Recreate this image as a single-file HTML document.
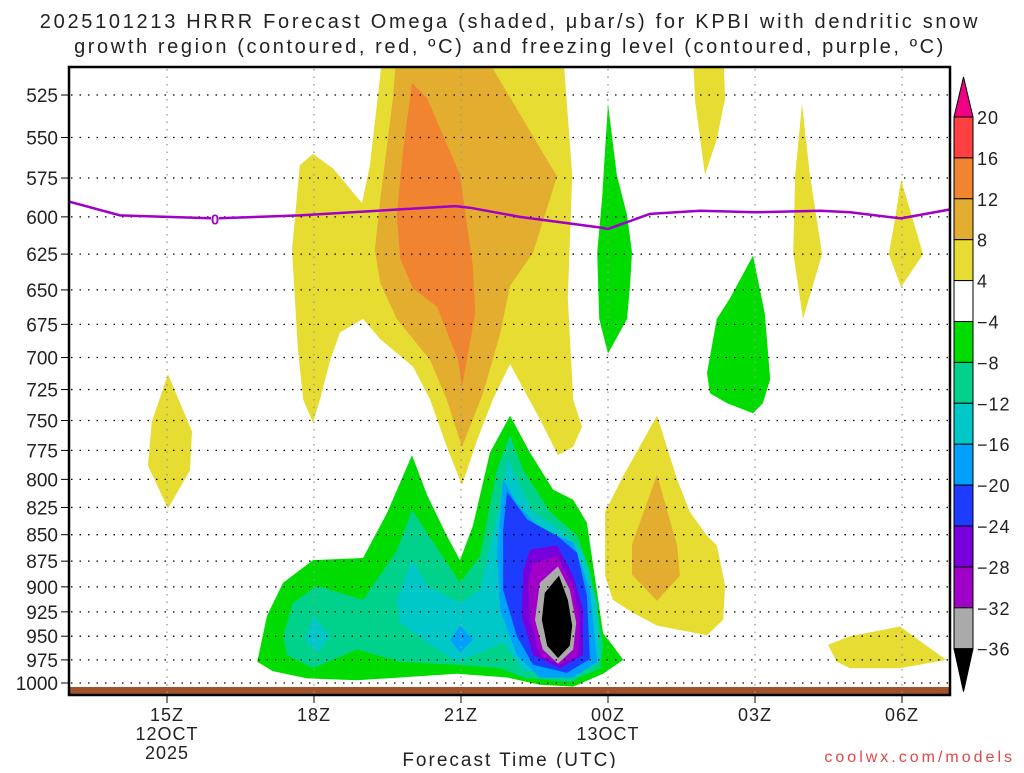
<!DOCTYPE html>
<html><head><meta charset="utf-8"><style>
body{margin:0;background:#fff;width:1024px;height:768px;overflow:hidden}
svg text{font-family:"Liberation Sans",sans-serif;fill:#222}
</style></head><body>
<svg id="chart" width="1024" height="768" xmlns="http://www.w3.org/2000/svg">
<text x="510" y="28" font-size="20" letter-spacing="2.7" text-anchor="middle">2025101213 HRRR Forecast Omega (shaded, μbar/s) for KPBI with dendritic snow</text>
<text x="510" y="53" font-size="20" letter-spacing="2.6" text-anchor="middle">growth region (contoured, red, ºC) and freezing level (contoured, purple, ºC)</text>
<defs><clipPath id="pc"><rect x="69" y="67" width="881" height="628"/></clipPath></defs>
<g id="fills" clip-path="url(#pc)"></g>
<g id="grid"></g>
<g id="frz" clip-path="url(#pc)"></g>
<rect x="69" y="67" width="881" height="628" fill="none" stroke="#000" stroke-width="2.5"/>
<g id="axes"></g>
<g id="cbar"></g>
<text x="510" y="766" font-size="19" letter-spacing="2" text-anchor="middle">Forecast Time (UTC)</text>
<text x="1015" y="762" font-size="16" letter-spacing="3" text-anchor="end" style="fill:#e04848">coolwx.com/models</text>
</svg>
<script>
const pressureTicks=[525,550,575,600,625,650,675,700,725,750,775,800,825,850,875,900,925,950,975,1000];
const hourTicks=[15,18,21,24,27,30];
const hourLabels=[["15Z","12OCT","2025"],["18Z"],["21Z"],["00Z","13OCT"],["03Z"],["06Z"]];
const levels=[20,16,12,8,4,-4,-8,-12,-16,-20,-24,-28,-32,-36];
const levelColors=["#ff4040","#f08430","#e3ae30","#e6dc32","#ffffff","#00dc00","#00d28c","#00c8c8","#00a0ff","#1e3cff","#7800dc","#a000c8","#aaaaaa"];
const freezingLevel=[[13,590],[14.04,599],[15.98,601],[17.71,599],[20.88,593],[21.18,594],[22.2,600],[23.84,607],[24,608],[24.86,598],[25.88,596],[27,597],[28.33,596],[28.94,597],[29.98,601],[31,595]];
const freezingLabelAt=[15.98,601];
const yellowMain=[[19.41,500],[23.08,500],[23.27,573],[23.18,656],[23.29,733],[23.47,755],[23.29,772],[22.98,779],[22.61,749],[22,705],[21.65,733],[21.33,766],[21.02,805],[20.71,772],[20.37,733],[20.02,707],[19.35,686],[19,671],[18.53,681],[18.33,702],[18.12,733],[17.98,752],[17.78,733],[17.67,693],[17.55,622],[17.71,567],[17.98,560],[18.39,569],[18.98,591],[19.14,567]];
const orangeMain=[[19.69,500],[21.43,500],[22.96,574],[22.47,624],[22,647],[21.8,682],[21.45,728],[21.02,772],[20.71,733],[20.37,702],[19.69,671],[19.35,645],[19.24,622],[19.35,589],[19.61,527]];
const darkOrangeMain=[[20,518],[20.31,527],[20.98,573],[21.24,633],[21.29,667],[21.02,723],[20.94,702],[20.51,662],[20.02,649],[19.76,628],[19.69,599],[19.82,557]];
const yellow15z=[[15.02,713],[15.51,759],[15.47,792],[15.02,826],[14.61,788],[14.69,751]];
const yellow02z=[[25.73,500],[26.35,500],[26.39,527],[26.22,551],[25.98,573],[25.78,529]];
const yellow04z=[[27.96,530],[28.12,573],[28.37,625],[27.98,671],[27.78,624],[27.82,573]];
const yellow06z=[[29.98,576],[30.43,625],[29.98,648],[29.73,625],[29.86,601]];
const yellow01z=[[25,746],[25.41,800],[25.67,829],[26.02,851],[26.22,860],[26.39,899],[26.35,933],[26.02,949],[25,939],[24.51,926],[24.1,913],[23.94,889],[23.94,829],[24.31,797]];
const orange01z=[[25,796],[25.41,860],[25.47,889],[25,914],[24.49,888],[24.49,859]];
const yellow05z=[[28.49,959],[28.94,950],[29.96,940],[30.9,975],[29.96,984],[28.94,984],[28.67,977]];
const green00z=[[24,530],[24.18,573],[24.39,599],[24.49,624],[24.45,647],[24.39,671],[24,697],[23.82,671],[23.78,624],[23.88,588],[23.94,557]];
const green03z=[[26.96,626],[27.2,667],[27.31,717],[27.16,736],[26.96,744],[26.43,736],[26.08,728],[26.02,712],[26.22,671],[26.49,656]];
const greenLow=[[16.84,977],[17.04,929],[17.37,896],[17.98,874],[19,872],[19.49,830],[20,779],[20.31,814],[20.71,851],[20.98,874],[21.24,842],[21.59,777],[22,746],[22.41,777],[22.88,809],[23.29,818],[23.57,839],[23.9,947],[24.1,960],[24.31,975],[23.9,990],[23.29,1004],[22.61,1002],[21.94,994],[20.92,990],[19.76,994],[18.88,997],[17.86,995],[17.16,987]];
const tealLow=[[17.37,950],[17.57,916],[18.06,899],[19,913],[19.69,865],[20,827],[20.43,857],[20.98,896],[21.39,870],[21.73,792],[22,762],[22.27,792],[22.82,829],[23.37,851],[23.63,884],[23.9,960],[23.84,984],[23.22,999],[22.27,994],[21.8,984],[20.84,980],[19.76,977],[18.88,964],[17.98,984],[17.45,970]];
const cyanLow=[[19.69,913],[20,874],[20.31,899],[20.98,916],[21.39,903],[21.8,821],[21.94,782],[22.14,800],[22.47,829],[23.02,845],[23.49,867],[23.78,916],[23.84,977],[23.22,994],[22.27,987],[21.86,957],[20.92,977],[20.31,957],[19.76,936]];
const cyan18z=[[17.98,929],[18.33,950],[18.06,967],[17.82,954]];
const blue21z=[[20.78,954],[20.98,939],[21.24,954],[20.98,967]];
const blueLow=[[21.86,800],[22.14,821],[22.61,845],[23.29,857],[23.63,903],[23.78,977],[23.29,994],[22.61,994],[22.14,970],[21.8,923],[21.73,867]];
const darkBlueLow=[[21.94,811],[22.35,836],[22.96,851],[23.37,867],[23.57,909],[23.63,974],[23.16,989],[22.47,980],[22.14,950],[21.86,903],[21.86,846]];
const purpleLow=[[22.41,864],[22.96,860],[23.29,889],[23.49,923],[23.49,970],[23.02,984],[22.47,970],[22.24,929],[22.27,884]];
const magentaLow=[[22.47,877],[22.96,870],[23.29,899],[23.43,933],[23.39,970],[23.02,980],[22.61,970],[22.41,933],[22.37,896]];
const grayLow=[[22.98,880],[23.22,903],[23.35,936],[23.29,964],[22.98,979],[22.67,964],[22.51,933],[22.61,896]];
const blackLow=[[23,889],[23.18,913],[23.27,939],[23.22,960],[22.98,973],[22.76,960],[22.65,933],[22.71,906]];

const X0=69,PXH=49,H0=13,Y1000=683,KY=912.5;
function xs(h){return X0+(h-H0)*PXH;}
function ys(p){return Y1000-KY*Math.log(1000/p);}
const NS="http://www.w3.org/2000/svg";
function mk(tag,parent,attrs){const e=document.createElementNS(NS,tag);for(const k in attrs)e.setAttribute(k,attrs[k]);parent.appendChild(e);return e;}

const fills=document.getElementById('fills');
const layers=[[yellowMain,3,'yellow-main'],[orangeMain,2,'orange-main'],[darkOrangeMain,1,'dark-orange-main'],[yellow15z,3,'yellow-15z'],[yellow02z,3,'yellow-02z'],[yellow04z,3,'yellow-04z'],[yellow06z,3,'yellow-06z'],[yellow01z,3,'yellow-01z'],[orange01z,2,'orange-01z'],[yellow05z,3,'yellow-05z'],[green00z,5,'green-00z'],[green03z,5,'green-03z'],[greenLow,5,'green-low'],[tealLow,6,'teal-low'],[cyanLow,7,'cyan-low'],[cyan18z,7,'cyan-18z'],[blue21z,8,'blue-21z'],[blueLow,8,'blue-low'],[darkBlueLow,9,'dark-blue-low'],[purpleLow,10,'purple-low'],[magentaLow,11,'magenta-low'],[grayLow,12,'gray-low'],[blackLow,-1,'black-low']];
layers.forEach(([pts,ci,name])=>{
  const d='M'+pts.map(q=>xs(q[0]).toFixed(1)+','+ys(q[1]).toFixed(1)).join('L')+'Z';
  const el=mk('path',fills,{d:d,fill:ci<0?'#000':levelColors[ci]});
  
  
});
const ground=mk('rect',fills,{x:69,y:687,width:881,height:8,fill:'#a0522d'});



const grid=document.getElementById('grid'),axes=document.getElementById('axes');
pressureTicks.forEach(p=>{
  const y=ys(p);
  const g=mk('line',grid,{x1:71,x2:948,y1:y,y2:y,stroke:'#000','stroke-width':1.3,'stroke-dasharray':'1.5,7'});
  
  
  const t=mk('line',axes,{x1:61,x2:69,y1:y,y2:y,stroke:'#000','stroke-width':1});
  
  
  const l=mk('text',axes,{x:58,y:y+7,'font-size':19,'text-anchor':'end'});l.textContent=p;
  
  
});
hourTicks.forEach((h,i)=>{
  const x=xs(h);
  const g=mk('line',grid,{x1:x,x2:x,y1:69,y2:693,stroke:'#999','stroke-width':1.3,'stroke-dasharray':'1.5,6'});
  
  
  const t=mk('line',axes,{x1:x,x2:x,y1:695,y2:703,stroke:'#000','stroke-width':1});
  
  
  hourLabels[i].forEach((s,j)=>{
    const l=mk('text',axes,{x:x,y:721+j*19,'font-size':18,'letter-spacing':1,'text-anchor':'middle'});l.textContent=s;
    
    
  });
});

const frz=document.getElementById('frz');
const fl=mk('polyline',frz,{points:freezingLevel.map(q=>xs(q[0])+','+ys(q[1])).join(' '),fill:'none',stroke:'#a000c8','stroke-width':2.5});


const fx=xs(freezingLabelAt[0]),fy=ys(freezingLabelAt[1]);
mk('rect',frz,{x:fx-4,y:fy-7,width:8,height:14,fill:'#fff'});
const ft=mk('text',frz,{x:fx,y:fy+6,'font-size':15,'text-anchor':'middle',style:'fill:#a000c8;font-weight:bold'});ft.textContent='0';



const cb=document.getElementById('cbar');
const CB_X=954,CB_W=19,CB_TOP=117,CB_STEP=40.9;
function cbY(i){return CB_TOP+i*CB_STEP;}
const up=mk('polygon',cb,{points:`${CB_X},${CB_TOP} ${CB_X+CB_W},${CB_TOP} ${CB_X+CB_W/2},77`,fill:'#f00082',stroke:'#000','stroke-width':1});


levelColors.forEach((c,i)=>{
  const r=mk('rect',cb,{x:CB_X,y:cbY(i),width:CB_W,height:CB_STEP,fill:c,stroke:'#000','stroke-width':1});
  
  
});
const nb=levelColors.length;
const dn=mk('polygon',cb,{points:`${CB_X},${cbY(nb)} ${CB_X+CB_W},${cbY(nb)} ${CB_X+CB_W/2},${cbY(nb)+43}`,fill:'#000',stroke:'#000','stroke-width':1});


levels.forEach((v,i)=>{
  const l=mk('text',cb,{x:977,y:cbY(i)+7,'font-size':18,'letter-spacing':1});l.textContent=v<0?'\u2212'+(-v):String(v);
  
  
});
</script>
</body></html>
